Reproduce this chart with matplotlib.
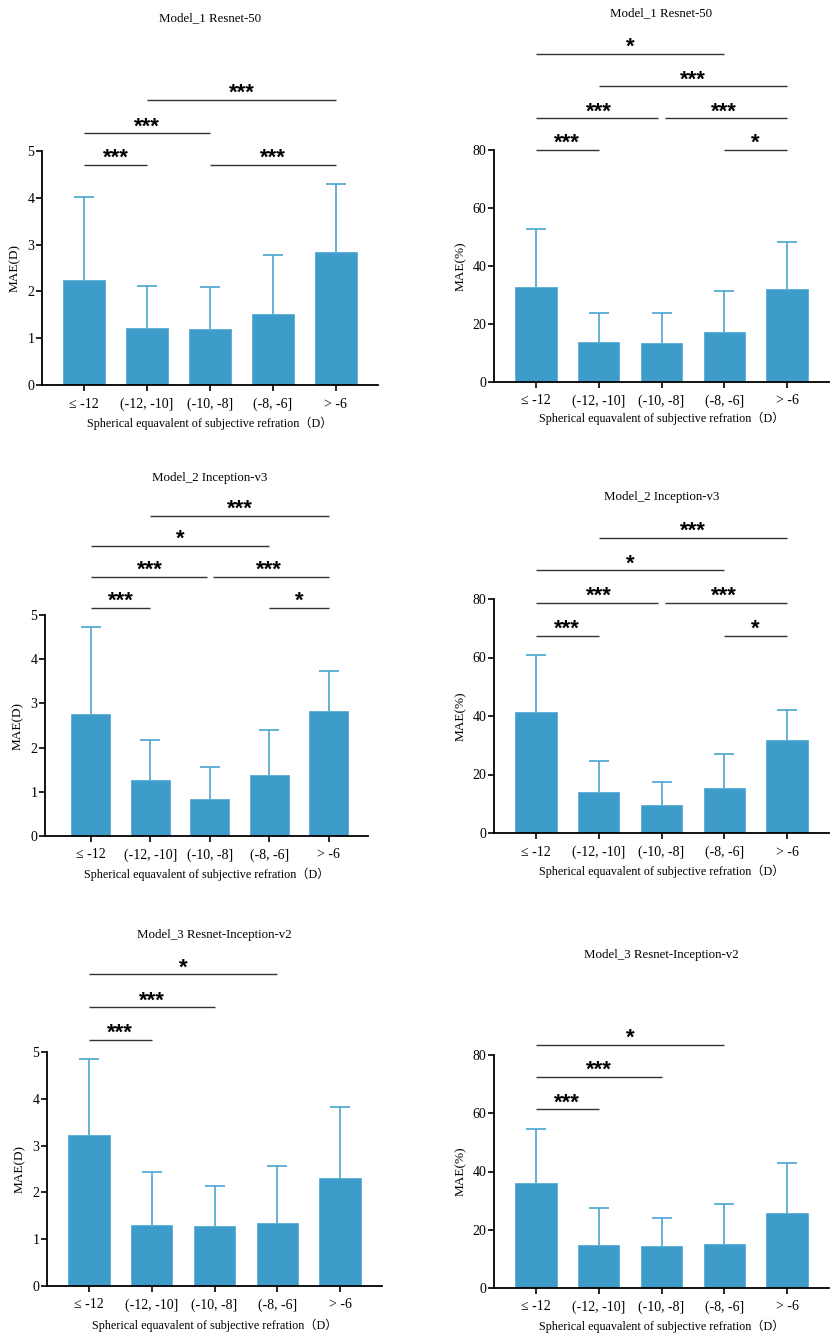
import matplotlib
matplotlib.use("Agg")
import matplotlib.pyplot as plt
import matplotlib.transforms as mtransforms
import numpy as np

plt.rcParams['font.family'] = ['Liberation Serif', 'Noto Sans CJK SC', 'DejaVu Sans']
plt.rcParams['font.size'] = 9.5

# categories shared by all panels
categories = ["\u2264 -12", "(-12, -10]", "(-10, -8]", "(-8, -6]", "> -6"]
xlabel = "Spherical equavalent of subjective refration\uff08D\uff09"

# panel titles
titles = ["Model_1 Resnet-50", "Model_1 Resnet-50",
          "Model_2 Inception-v3", "Model_2 Inception-v3",
          "Model_3 Resnet-Inception-v2", "Model_3 Resnet-Inception-v2"]
ylabels = ["MAE(D)", "MAE(%)", "MAE(D)", "MAE(%)", "MAE(D)", "MAE(%)"]

# mean values (bar heights)
m1_mae_d = [2.24, 1.22, 1.20, 1.52, 2.84]
m1_mae_pct = [32.7, 13.8, 13.5, 17.2, 31.9]
m2_mae_d = [2.76, 1.26, 0.84, 1.39, 2.82]
m2_mae_pct = [41.3, 14.1, 9.5, 15.5, 31.8]
m3_mae_d = [3.22, 1.30, 1.29, 1.34, 2.30]
m3_mae_pct = [36.2, 14.6, 14.5, 15.1, 25.9]

# standard deviations (upper error bars)
m1_sd_d = [1.78, 0.89, 0.90, 1.25, 1.45]
m1_sd_pct = [20.0, 9.9, 10.2, 14.1, 16.5]
m2_sd_d = [1.97, 0.92, 0.71, 1.00, 0.91]
m2_sd_pct = [19.5, 10.5, 7.9, 11.4, 10.1]
m3_sd_d = [1.62, 1.13, 0.85, 1.23, 1.52]
m3_sd_pct = [18.5, 12.8, 9.5, 13.8, 17.1]

# significance brackets: (from group, to group, height, label)
m1_sig_d = [(0, 1, 4.70, "***"), (2, 4, 4.70, "***"),
            (0, 2, 5.38, "***"), (1, 4, 6.09, "***")]
m1_sig_pct = [(0, 1, 80.0, "***"), (3, 4, 80.0, "*"),
              (0, 2, 91.0, "***"), (2, 4, 91.0, "***"),
              (1, 4, 102.0, "***"), (0, 3, 113.2, "*")]
m2_sig_d = [(0, 1, 5.16, "***"), (3, 4, 5.16, "*"),
            (0, 2, 5.86, "***"), (2, 4, 5.86, "***"),
            (0, 3, 6.56, "*"), (1, 4, 7.24, "***")]
m2_sig_pct = [(0, 1, 67.5, "***"), (3, 4, 67.5, "*"),
              (0, 2, 78.7, "***"), (2, 4, 78.7, "***"),
              (0, 3, 89.8, "*"), (1, 4, 101.0, "***")]
m3_sig_d = [(0, 1, 5.26, "***"), (0, 2, 5.96, "***"), (0, 3, 6.66, "*")]
m3_sig_pct = [(0, 1, 61.4, "***"), (0, 2, 72.5, "***"), (0, 3, 83.6, "*")]

means = [m1_mae_d, m1_mae_pct, m2_mae_d, m2_mae_pct, m3_mae_d, m3_mae_pct]
sds = [m1_sd_d, m1_sd_pct, m2_sd_d, m2_sd_pct, m3_sd_d, m3_sd_pct]
sigs = [m1_sig_d, m1_sig_pct, m2_sig_d, m2_sig_pct, m3_sig_d, m3_sig_pct]
yticks = [np.arange(0, 6, 1), np.arange(0, 81, 20)] * 3

######################################
# layout (pixel boxes of each axes)
######################################
W, H = 836, 1339
boxes = [(42, 151, 378, 385), (494, 150, 829, 382),
         (45, 615, 368, 836), (494, 599, 829, 833),
         (47, 1052, 382, 1286), (494, 1055, 829, 1288)]
xlims = [(-0.67, 4.67), (-0.67, 4.67), (-0.77, 4.66),
         (-0.67, 4.67), (-0.67, 4.67), (-0.67, 4.67)]
title_y = [18, 13, 478, 497, 935, 955]
xlabel_pad = [4, 3, 4, 4, 5, 4]
ylabel_pad = [5, 4, 5, 4, 5, 4]

bar_color = "#3d9cc9"
edge_color = "#4aa6d2"
err_color = "#4aa5d1"
sig_color = "#333333"

fig = plt.figure(figsize=(W / 100, H / 100), dpi=100)

for k in range(6):
    x0, y0, x1, y1 = boxes[k]
    ax = fig.add_axes([x0 / W, 1 - y1 / H, (x1 - x0) / W, (y1 - y0) / H])
    x = np.arange(len(categories))
    ax.bar(x, means[k], width=0.66, color=bar_color, edgecolor=edge_color,
           linewidth=0.5, zorder=2)
    eb = ax.errorbar(x, means[k], yerr=[np.zeros(len(x)), sds[k]], fmt="none",
                     ecolor=err_color, elinewidth=1.2, capsize=7.5,
                     capthick=1.2, zorder=1)
    eb[1][0].set_visible(False)  # no lower cap

    ax.set_xlim(*xlims[k])
    ax.set_ylim(0, yticks[k][-1])
    ax.set_yticks(yticks[k])
    ax.set_xticks(x)
    ax.set_xticklabels(categories)
    ax.tick_params(axis="both", direction="out", length=4, width=1.2,
                   labelsize=10)
    ax.tick_params(axis="x", pad=5)
    ax.tick_params(axis="y", pad=1.5)
    for side in ["top", "right"]:
        ax.spines[side].set_visible(False)
    for side in ["left", "bottom"]:
        ax.spines[side].set_linewidth(1.3)
    ax.set_xlabel(xlabel, fontsize=8.7, labelpad=xlabel_pad[k])
    ax.set_ylabel(ylabels[k], fontsize=9.5, labelpad=ylabel_pad[k])

    # significance brackets
    for (i, j, h, lab) in sigs[k]:
        a, b = float(i), float(j)
        for (i2, j2, h2, _) in sigs[k]:
            if h2 == h and (i2, j2) != (i, j):
                if j2 == i:
                    a += 0.05
                if i2 == j:
                    b -= 0.05
        ax.plot([a, b], [h, h], color=sig_color, lw=1.0, clip_on=False,
                solid_capstyle="butt")
        ax.annotate(lab, xy=((i + j) / 2, h), xytext=(0, -3),
                    textcoords="offset points", ha="center", va="bottom",
                    fontsize=16, fontweight="bold", family="Liberation Sans",
                    annotation_clip=False)

    # title centred over the middle group
    trans = mtransforms.blended_transform_factory(ax.transData, fig.transFigure)
    ax.text(2, 1 - title_y[k] / H, titles[k], transform=trans,
            ha="center", va="center", fontsize=9.3)

fig.savefig("out.png", dpi=100)
